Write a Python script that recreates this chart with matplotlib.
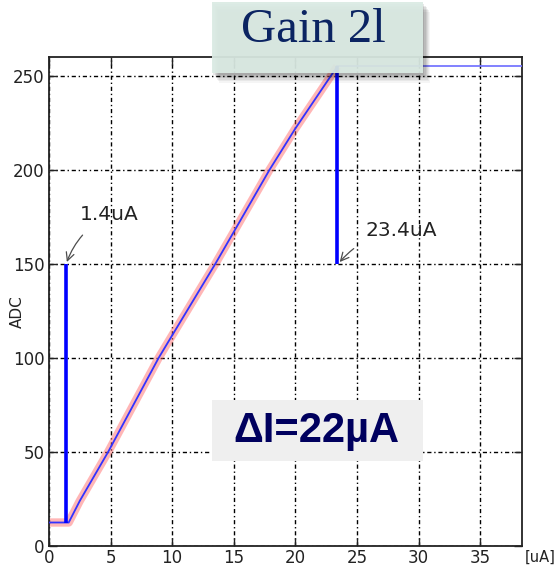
import matplotlib
matplotlib.use("Agg")
import matplotlib.pyplot as plt
from matplotlib.patches import Rectangle

# ADC response vs injected current (uA)
current = [0, 1.4, 1.6, 2.5, 4.8, 8.9, 10, 13.5, 15, 17.9, 20, 23.4, 38.5]
adc = [12.5, 12.5, 12.5, 24, 50, 100, 112, 150, 167, 200, 222, 255, 255]

# threshold markers: (x, y_from, y_to)
x_start, start_lo, start_hi = 1.4, 12.5, 150
x_sat, sat_lo, sat_hi = 23.4, 150, 255

xticks = [0, 5, 10, 15, 20, 25, 30, 35]
yticks = [0, 50, 100, 150, 200, 250]

fig = plt.figure(figsize=(5.58, 5.69), dpi=100)
ax = fig.add_axes([0.0878, 0.0404, 0.8477, 0.8594])

# fitted band under the measured curve
rise = [i for i, x in enumerate(current) if x <= x_sat]
ax.plot(current[:rise[-1] + 1], adc[:rise[-1] + 1], color="#ff5f5f", lw=6,
        alpha=0.45, solid_capstyle="butt", zorder=2)
ax.plot(current[:rise[-1] + 1], adc[:rise[-1] + 1], color="#3333ff", lw=1.3,
        zorder=3)
ax.plot([x_sat, current[-1]], [sat_hi, sat_hi], color="#7777ff", lw=1.3, zorder=3)

ax.plot([x_start, x_start], [start_lo, start_hi], color="#0000ff", lw=2.6,
        solid_capstyle="butt", zorder=4)
ax.plot([x_sat, x_sat], [sat_lo, sat_hi], color="#0000ff", lw=2.6,
        solid_capstyle="butt", zorder=4)

ax.annotate("1.4uA", xy=(x_start + 0.05, start_hi + 1), xytext=(2.5, 176),
            fontsize=14.5, color="#222222", va="center", ha="left",
            arrowprops=dict(arrowstyle="->", connectionstyle="arc3,rad=0.2",
                            color="0.3", lw=0.9, shrinkA=8, shrinkB=0))
ax.annotate("23.4uA", xy=(x_sat + 0.2, sat_lo + 1), xytext=(25.7, 168),
            fontsize=14.5, color="#222222", va="center", ha="left",
            arrowprops=dict(arrowstyle="->", connectionstyle="arc3,rad=0.2",
                            color="0.3", lw=0.9, shrinkA=8, shrinkB=0))

ax.set_xlim(0, 38.4)
ax.set_ylim(0, 260)
ax.set_xticks(xticks)
ax.set_yticks(yticks)
ax.tick_params(direction="in", length=6, width=1, top=True, right=True,
               labelsize=12, pad=3, colors="#222222")
ax.tick_params(axis="x", pad=2)
ax.grid(True, color="black", lw=1, linestyle=(0, (3, 2, 1, 2)))
for s in ax.spines.values():
    s.set_linewidth(1.3)
    s.set_color("#222222")
ax.set_ylabel("ADC", fontsize=11, color="#222222")
ax.yaxis.set_label_coords(-0.052, 0.48)
ax.text(1.005, -0.008, "[uA]", transform=ax.transAxes, fontsize=10.5,
        color="#222222", ha="left", va="top")

# delta-I label box
fig.patches.append(Rectangle((212 / 558, 1 - 461 / 569), 211 / 558, 61 / 569,
                             transform=fig.transFigure, facecolor="#efefef",
                             edgecolor="none", zorder=5))
fig.text(316 / 558, 1 - 431 / 569, "\u0394I=22\u00b5A", fontsize=30,
         fontweight="bold", family="Liberation Sans", color="#00005e",
         ha="center", va="center", zorder=6)

# title box with a soft drop shadow
for k, a in enumerate([0.04, 0.05, 0.06, 0.07, 0.08, 0.09]):
    off = 10 - 1.6 * k
    fig.patches.append(Rectangle(((212 + off * 0.7) / 558, 1 - (73 + off) / 569),
                                 211 / 558, 71 / 569, transform=fig.transFigure,
                                 facecolor="black", alpha=a, edgecolor="none",
                                 zorder=7))
fig.patches.append(Rectangle((212 / 558, 1 - 73 / 569), 211 / 558, 71 / 569,
                             transform=fig.transFigure, facecolor="#dbebe4",
                             alpha=0.93, edgecolor="none", zorder=8))
fig.text(313 / 558, 1 - 42 / 569, "Gain 2l", fontsize=35,
         family="Liberation Serif", color="#0b2462", ha="center",
         va="baseline", zorder=9)

fig.savefig("out.png", dpi=100)
